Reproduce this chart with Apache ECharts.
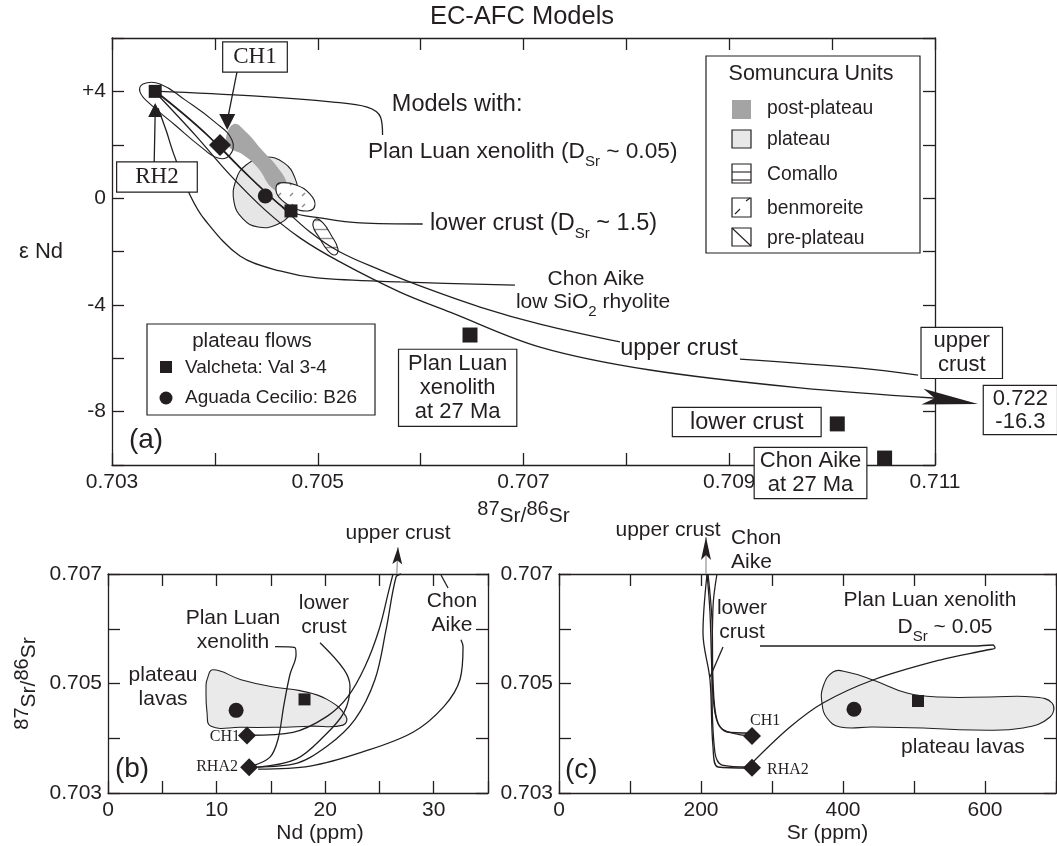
<!DOCTYPE html>
<html>
<head>
<meta charset="utf-8">
<title>EC-AFC Models</title>
<script src="https://cdn.jsdelivr.net/npm/echarts@6/dist/echarts.min.js"></script>
<style>
  html, body { margin: 0; padding: 0; background: #fff; }
  #chart { width: 1057px; height: 846px; }
</style>
</head>
<body>
<div id="chart"></div>
<script>
// ---------- (a) eNd vs 87Sr/86Sr ----------
var aStart = [[0.70342, 4.0]];
var aRH2 = [[0.70342, 3.3]];
var aCH1 = [[0.70412, 2.85]];
var aCH1dia = [[0.70405, 1.99]];
var aB26 = [[0.70449, 0.08]];
var aVal = [[0.70474, -0.48]];
var aCrust = [[0.70648, -5.13], [0.71005, -8.46], [0.71051, -9.74]];

var aPlanLuan = [[0.70342, 4.01], [0.70437, 3.83], [0.70515, 3.60], [0.70548, 3.41], [0.70561, 3.04], [0.70563, 2.37]];
var aLowerCrust = [[0.70344, 3.94], [0.70376, 2.93], [0.70403, 1.99], [0.70429, 0.98], [0.70452, 0.12], [0.70474, -0.52],
  [0.70502, -0.74], [0.70541, -0.93], [0.70602, -0.97]];
var aChonAike = [[0.703447, 3.38], [0.703525, 2.55], [0.703603, 1.62], [0.703758, 0.12], [0.703904, -0.82], [0.704244, -2.17],
  [0.704633, -2.73], [0.704993, -2.99], [0.7058, -3.14], [0.706917, -3.26]];
var aUpper1 = [[0.703437, 3.98], [0.703855, 2.63], [0.704244, 1.13], [0.704633, -0.26], [0.704925, -1.27], [0.705216, -2.02],
  [0.705605, -2.69], [0.705994, -3.29], [0.706577, -4.08], [0.70716, -4.72], [0.707938, -5.39]];
var aUpper1Tail = [[0.709104, -6.03], [0.710271, -6.37], [0.710835, -6.63]];
var aUpper2 = [[0.703437, 3.90], [0.703807, 2.37], [0.704147, 0.87], [0.704487, -0.44], [0.704827, -1.49], [0.705216, -2.39],
  [0.705799, -3.52], [0.706286, -4.27], [0.70716, -5.58], [0.70823, -6.44], [0.709688, -7.11], [0.710981, -7.49]];
var aUpper2Arrow = [[0.710981, -7.49], [0.711418, -7.71]];
var aRH2Pointer = [[0.70341, 1.32], [0.70342, 3.23]];
var aCH1Pointer = [[0.704215, 4.73], [0.704128, 3.04]];

var aPlateauField = [[0.704487, 1.54], [0.704672, 1.32], [0.704779, 0.75], [0.704798, 0.12], [0.70474, -0.56], [0.704594, -1.01],
  [0.704419, -1.08], [0.704273, -0.78], [0.704186, -0.15], [0.704205, 0.68], [0.704303, 1.24]];
var aPostPlateau = [[0.704186, 2.78], [0.704303, 2.48], [0.704458, 1.80], [0.704614, 1.13], [0.704701, 0.53], [0.704672, 0.23],
  [0.704555, 0.38], [0.704419, 1.13], [0.704264, 1.65], [0.704147, 1.88], [0.704108, 2.25]];
var aPrePlateau = [[0.703301, 4.28], [0.703467, 4.28], [0.70371, 3.68], [0.704001, 2.85], [0.704166, 2.18], [0.704147, 1.62],
  [0.70403, 1.50], [0.703855, 1.95], [0.703612, 2.74], [0.703369, 3.53], [0.703272, 3.98]];
var aBenmoreite = [[0.704633, 0.57], [0.704789, 0.49], [0.704925, 0.15], [0.704973, -0.26], [0.704905, -0.48], [0.70475, -0.33],
  [0.704623, 0.04], [0.704594, 0.38]];
var aComallo = [[0.704983, -0.78], [0.705051, -0.93], [0.705129, -1.38], [0.705197, -1.91], [0.705168, -2.13], [0.7051, -1.98],
  [0.705012, -1.46], [0.704954, -1.04]];

// ---------- (b) 87Sr/86Sr vs Nd ----------
var bB26 = [[11.8, 0.70451]];
var bVal = [[18.1, 0.70471]];
var bStart = [[12.8, 0.70405], [13.0, 0.70347]];
var bPlateau = [[9.12, 0.70507], [9.67, 0.70525], [12.25, 0.70507], [15.38, 0.70493], [17.68, 0.70487], [20.17, 0.70471],
  [21.92, 0.7044], [21.65, 0.70424], [18.6, 0.70422], [15.38, 0.7042], [12.25, 0.7042], [9.49, 0.70422], [9.12, 0.70447], [9.03, 0.70495]];
var bUpperCH1 = [[13.08, 0.704055], [17.04, 0.704109], [20.17, 0.7044], [22.11, 0.704764], [23.67, 0.705309], [24.96, 0.705982],
  [25.88, 0.706709], [26.25, 0.707]];
var bUpperRHA2 = [[13.08, 0.703473], [17.04, 0.703527], [20.17, 0.703855], [22.75, 0.704345], [24.59, 0.705073], [25.61, 0.705982],
  [26.53, 0.706945], [26.99, 0.707]];
var bLowerCrust = [[19.53, 0.705745], [21.74, 0.705255], [22.29, 0.704945], [21.74, 0.704473], [19.89, 0.704036], [17.32, 0.703618], [13.82, 0.703473]];
var bPlanLuan = [[15.38, 0.705673], [17.22, 0.705655], [17.32, 0.705527], [16.76, 0.705164], [16.21, 0.704618], [15.66, 0.703982],
  [14.92, 0.703655], [13.26, 0.703491]];
var bChonAike = [[13.82, 0.703436], [18.61, 0.703491], [23.39, 0.703745], [28.09, 0.704109], [30.95, 0.704582], [32.42, 0.705073],
  [32.7, 0.705673], [32.51, 0.7058]];
var bChonPointer = [[30.67, 0.706982], [31.32, 0.706745]];
var bArrow = [[26.6, 0.707], [26.71, 0.70749]];

// ---------- (c) 87Sr/86Sr vs Sr ----------
var cB26 = [[415.5, 0.70453]];
var cVal = [[505.6, 0.70468]];
var cStart = [[271.8, 0.70404], [271.8, 0.70346]];
var cPlateau = [[371.8, 0.704936], [385.9, 0.70521], [405.6, 0.70521], [442.3, 0.705064], [490.2, 0.704826], [536.6, 0.704753],
  [607.1, 0.704753], [667.6, 0.704753], [694.4, 0.704644], [691.6, 0.704388], [653.5, 0.704187], [583.1, 0.704151],
  [512.7, 0.704187], [442.3, 0.704206], [395.8, 0.704206], [377.5, 0.70437], [370.4, 0.704644]];
var cPlanLuan = [[273.2, 0.703566], [325.4, 0.704205], [371.8, 0.704644], [442.3, 0.705064], [536.6, 0.705429], [602.8, 0.705612],
  [614.1, 0.705648], [611.3, 0.705703], [583.1, 0.705685], [283.1, 0.705685]];
var cLower1 = [[269, 0.704096], [236.6, 0.704114], [222.5, 0.704333], [216.9, 0.705064], [215.5, 0.70616], [209.9, 0.707]];
var cLower2 = [[269, 0.704041], [229.6, 0.704169], [219.7, 0.704461], [215.5, 0.705192], [212.7, 0.706288], [208.5, 0.707]];
var cUpper = [[269, 0.703457], [223.9, 0.703475], [216.9, 0.70384], [212.7, 0.705064], [202.8, 0.705922], [208.5, 0.707]];
var cChonAike = [[269, 0.703475], [229.6, 0.703511], [219.7, 0.703731], [215.5, 0.704936], [216.9, 0.706397], [222.5, 0.707]];
var cLowerPointer = [[231, 0.705667], [212.7, 0.705119]];
var cArrow = [[207, 0.707], [207, 0.707676]];

var INK = '#231f20';
var SANS = '"Liberation Sans", Arial, Helvetica, sans-serif';
var SERIF = '"Liberation Serif", "Times New Roman", serif';

var rich = {
  tp: { fontFamily: SANS, fontSize: 22.7, color: INK, lineHeight: 34, verticalAlign: 'middle' },
  t: { fontFamily: SANS, fontSize: 23.5, color: INK, lineHeight: 34, verticalAlign: 'middle' },
  s: { fontFamily: SANS, fontSize: 15, color: INK, lineHeight: 15, verticalAlign: 'bottom' },
  tb: { fontFamily: SANS, fontSize: 21, color: INK, lineHeight: 34, verticalAlign: 'middle' }
};
var nameRich = {
  p: { fontFamily: SANS, fontSize: 20, color: INK, lineHeight: 18, verticalAlign: 'top' },
  n: { fontFamily: SANS, fontSize: 21, color: INK, lineHeight: 34, verticalAlign: 'middle' }
};

// text annotations, anchored in each panel's data space
var notesA = [
  { at: [0.70572, 3.49], text: 'Models with:', align: 'left' },
  { at: [0.705488, 1.73], text: '{tp|Plan Luan xenolith (D}{s|Sr}{tp| ~ 0.05)}', align: 'left' },
  { at: [0.70609, -0.97], text: '{t|lower crust (D}{s|Sr}{t| ~ 1.5)}', align: 'left' },
  { at: [0.707705, -3.03], text: 'Chon Aike', size: 21 },
  { at: [0.707676, -3.89], text: '{tb|low SiO}{s|2}{tb| rhyolite}' },
  { at: [0.70794, -5.62], text: 'upper crust', align: 'left' },
  { at: [0.703165, -9.06], text: '(a)', align: 'left', size: 28 },
  { at: [0.70636, -7.11], text: 'Plan Luan\nxenolith\nat 27 Ma', box: true, size: 22, pad: [2, 9] },
  { at: [0.70917, -8.39], text: 'lower crust', box: true, pad: [1, 17], lh: 26 },
  { at: [0.70979, -10.30], text: 'Chon Aike\nat 27 Ma', box: true, size: 22, pad: [1, 5] },
  { at: [0.71126, -5.80], text: 'upper\ncrust', box: true, size: 22, pad: [1, 12] },
  { at: [0.71183, -7.94], text: '0.722\n-16.3', box: true, size: 22, pad: [1, 9], lh: 23 },
  { at: [0.70439, 5.29], text: 'CH1', box: true, serif: true, size: 23, lh: 27, pad: [1, 10] },
  { at: [0.703437, 0.79], text: 'RH2', box: true, serif: true, size: 23, lh: 27, pad: [1, 18] }
];
var notesB = [
  { at: [26.71, 0.707745], text: 'upper crust', size: 21 },
  { at: [11.51, 0.705982], text: 'Plan Luan\nxenolith', size: 21 },
  { at: [19.89, 0.706255], text: 'lower\ncrust', size: 21 },
  { at: [31.68, 0.706291], text: 'Chon\nAike', size: 21 },
  { at: [5.07, 0.704927], text: 'plateau\nlavas', size: 21 },
  { at: [0.64, 0.703436], text: '(b)', align: 'left', size: 28 },
  { at: [12.16, 0.704018], text: 'CH1', align: 'right', serif: true, size: 16 },
  { at: [11.97, 0.703473], text: 'RHA2', align: 'right', serif: true, size: 16 }
];
var notesC = [
  { at: [153.5, 0.707804], text: 'upper crust', size: 21 },
  { at: [242.3, 0.707438], text: 'Chon\nAike', align: 'left', size: 21 },
  { at: [257.7, 0.70616], text: 'lower\ncrust', size: 21 },
  { at: [522.5, 0.706525], text: 'Plan Luan xenolith', size: 21 },
  { at: [543.7, 0.706032], text: '{tb|D}{s|Sr}{tb| ~ 0.05}' },
  { at: [569.0, 0.70384], text: 'plateau lavas', size: 21 },
  { at: [8.5, 0.70342], text: '(c)', align: 'left', size: 28 },
  { at: [269, 0.704315], text: 'CH1', align: 'left', serif: true, size: 16 },
  { at: [293, 0.70342], text: 'RHA2', align: 'left', serif: true, size: 16 }
];

function fillPattern(draw, w, h) {
  var c = document.createElement('canvas');
  c.width = w; c.height = h;
  var g = c.getContext('2d');
  g.fillStyle = '#fff';
  g.fillRect(0, 0, w, h);
  g.strokeStyle = '#8c8c8c';
  g.lineWidth = 1.4;
  draw(g);
  return { image: c, repeat: 'repeat' };
}
var stripes = fillPattern(function (g) { g.beginPath(); g.moveTo(0, 4.5); g.lineTo(10, 4.5); g.stroke(); }, 10, 9);
var dashes = fillPattern(function (g) { g.beginPath(); g.moveTo(2, 9); g.lineTo(5, 6); g.stroke(); }, 12, 11);

function ax(gi) { return { xAxisIndex: gi * 2, yAxisIndex: gi * 2 }; }

function curve(gi, pts, color) {
  return Object.assign({
    type: 'line', data: pts, smooth: 0.35, showSymbol: false, silent: true, clip: false, z: 3,
    lineStyle: { color: color || INK, width: 1.3 }
  }, ax(gi));
}

function field(gi, pts, style) {
  return Object.assign({
    type: 'custom', data: [pts[0]], silent: true, z: 1, clip: false,
    renderItem: function (params, api) {
      return {
        type: 'polygon',
        shape: { points: pts.map(function (p) { return api.coord(p); }), smooth: 0.45 },
        style: style
      };
    }
  }, ax(gi));
}

// arrowhead whose tip sits on the segment's last point, pointing along the segment
function arrowHead(gi, pts, len, half) {
  return Object.assign({
    type: 'custom', data: [pts[1]], silent: true, z: 6, clip: false,
    renderItem: function (params, api) {
      var a = api.coord(pts[0]), b = api.coord(pts[1]);
      var dx = b[0] - a[0], dy = b[1] - a[1], d = Math.sqrt(dx * dx + dy * dy) || 1;
      var ux = dx / d, uy = dy / d, nx = -uy, ny = ux;
      var bx = b[0] - ux * len, by = b[1] - uy * len;
      var mx = b[0] - ux * len * 0.78, my = b[1] - uy * len * 0.78;
      return {
        type: 'polygon',
        shape: { points: [b, [bx + nx * half, by + ny * half], [mx, my], [bx - nx * half, by - ny * half]] },
        style: { fill: INK }
      };
    }
  }, ax(gi));
}

function marks(gi, pts, symbol, size, rotate) {
  return Object.assign({
    type: 'scatter', data: pts, symbol: symbol, symbolSize: size, symbolRotate: rotate || 0,
    silent: true, clip: false, z: 5, itemStyle: { color: INK, opacity: 1 }
  }, ax(gi));
}

function notes(gi, list) {
  return Object.assign({
    type: 'scatter', silent: true, clip: false, z: 20, symbolSize: 1,
    itemStyle: { color: 'rgba(0,0,0,0)', opacity: 1 },
    data: list.map(function (n) {
      var lab = {
        show: true, position: 'inside', align: n.align || 'center', verticalAlign: 'middle',
        formatter: n.text, fontFamily: n.serif ? SERIF : SANS, fontSize: n.size || 23.5,
        lineHeight: n.lh || 24, color: INK, opacity: 1, rich: rich
      };
      if (n.box) {
        lab.backgroundColor = '#fff';
        lab.borderColor = INK;
        lab.borderWidth = 1.2;
        lab.padding = n.pad;
      }
      return { value: n.at, label: lab };
    })
  }, ax(gi));
}

function axisBase(gi, min, max, step) {
  return {
    type: 'value', gridIndex: gi, min: min, max: max, interval: step,
    axisLine: { onZero: false, lineStyle: { color: INK, width: 1.3 } },
    axisTick: { inside: true, length: 12, lineStyle: { color: INK, width: 1.3 } },
    splitLine: { show: false }
  };
}

function axisPair(dim, gi, min, max, step, fmt, extra) {
  var main = Object.assign(axisBase(gi, min, max, step), {
    position: dim === 'x' ? 'bottom' : 'left',
    axisLabel: { formatter: fmt, fontFamily: SANS, fontSize: 21, color: INK, margin: dim === 'x' ? 7 : 6 },
    nameMoveOverlap: false
  }, extra || {});
  var mirror = Object.assign(axisBase(gi, min, max, step), {
    position: dim === 'x' ? 'top' : 'right',
    axisLabel: { show: false }
  });
  return [main, mirror];
}

function srFmt(v) {
  var k = Math.round((v - 0.703) * 1000);
  return k % 2 === 0 ? v.toFixed(3) : '';
}

var srName = '{p|87}{n|Sr/}{p|86}{n|Sr}';

var xAxes = [].concat(
  axisPair('x', 0, 0.703, 0.711, 0.001, srFmt, {
    name: srName, nameLocation: 'middle', nameGap: 34, nameTextStyle: { rich: nameRich }
  }),
  axisPair('x', 1, 0, 35, 5, function (v) { return v % 10 === 0 ? String(v) : ''; }, {
    name: 'Nd (ppm)', nameLocation: 'middle', nameGap: 30,
    nameTextStyle: { fontFamily: SANS, fontSize: 21, color: INK, padding: [0, 0, 0, 44] }
  }),
  axisPair('x', 2, 0, 700, 100, function (v) { return v % 200 === 0 ? String(v) : ''; }, {
    name: 'Sr (ppm)', nameLocation: 'middle', nameGap: 30,
    nameTextStyle: { fontFamily: SANS, fontSize: 21, color: INK, padding: [0, 0, 0, 40] }
  })
);

var yAxes = [].concat(
  axisPair('y', 0, -10, 6, 2, function (v) {
    var r = Math.round(v);
    if (r % 4 !== 0) return '';
    return r > 0 ? '+' + r : String(r);
  }, {
    name: 'ε Nd', nameLocation: 'middle', nameRotate: 0, nameGap: 49,
    nameTextStyle: { fontFamily: SANS, fontSize: 22, color: INK, align: 'right', padding: [0, 0, 14, 0] }
  }),
  axisPair('y', 1, 0.703, 0.707, 0.001, srFmt, {
    name: srName, nameLocation: 'middle', nameRotate: 90, nameGap: 62, nameTextStyle: { rich: nameRich }
  }),
  axisPair('y', 2, 0.703, 0.707, 0.001, srFmt)
);

function txt(x, y, s, size, align) {
  return {
    type: 'text', x: x, y: y, z: 30,
    style: {
      text: s, font: size + 'px ' + SANS, fill: INK,
      align: align || 'left', verticalAlign: 'middle', textAlign: align || 'left', textVerticalAlign: 'middle'
    }
  };
}
function box(x, y, w, h, fill) {
  return { type: 'rect', z: 30, shape: { x: x, y: y, width: w, height: h }, style: { fill: fill || '#fff', stroke: INK, lineWidth: 1.2 } };
}
function seg(x1, y1, x2, y2) {
  return { type: 'line', z: 31, shape: { x1: x1, y1: y1, x2: x2, y2: y2 }, style: { stroke: INK, lineWidth: 1.1 } };
}

var legendItems = [
  box(706, 56, 214, 197),
  txt(811, 74, 'Somuncura Units', 21.5, 'center'),
  { type: 'rect', z: 31, shape: { x: 732, y: 100, width: 19, height: 19 }, style: { fill: '#a4a4a4' } },
  txt(767, 109, 'post-plateau', 19.3),
  box(732, 130, 19, 18, '#e8e8e8'),
  txt(767, 140, 'plateau', 19.3),
  box(732, 164, 19, 19),
  seg(732, 172, 751, 172), seg(732, 180, 751, 180),
  txt(767, 175, 'Comallo', 19.3),
  box(732, 198, 19, 19),
  seg(735, 214, 740, 209), seg(746, 201, 750, 198),
  txt(767, 209, 'benmoreite', 19.3),
  box(732, 228, 19, 18),
  seg(732, 228, 751, 246),
  txt(767, 239, 'pre-plateau', 19.3),

  box(147, 324, 228, 91),
  txt(252, 341, 'plateau flows', 20.5, 'center'),
  { type: 'rect', z: 31, shape: { x: 160, y: 361, width: 12, height: 12 }, style: { fill: INK } },
  txt(185, 368, 'Valcheta: Val 3-4', 19),
  { type: 'circle', z: 31, shape: { cx: 166, cy: 398, r: 6.5 }, style: { fill: INK } },
  txt(185, 398, 'Aguada Cecilio: B26', 19)
];

var series = [
  // fields
  field(0, aPlateauField, { fill: '#e6e6e6', stroke: INK, lineWidth: 1.1 }),
  field(0, aPostPlateau, { fill: '#a6a6a6' }),
  field(0, aPrePlateau, { fill: 'none', stroke: INK, lineWidth: 1.1 }),
  field(0, aBenmoreite, { fill: dashes, stroke: INK, lineWidth: 1.1 }),
  field(0, aComallo, { fill: stripes, stroke: INK, lineWidth: 1.1 }),
  field(1, bPlateau, { fill: '#eaeaea', stroke: INK, lineWidth: 1.1 }),
  field(2, cPlateau, { fill: '#eaeaea', stroke: INK, lineWidth: 1.1 }),

  // model curves and pointers
  curve(0, aPlanLuan), curve(0, aLowerCrust), curve(0, aChonAike),
  curve(0, aUpper1), curve(0, aUpper1Tail), curve(0, aUpper2),
  curve(0, aRH2Pointer), curve(0, aCH1Pointer),
  curve(0, aUpper2Arrow),
  arrowHead(0, aUpper2Arrow, 56, 8),

  curve(1, bUpperCH1), curve(1, bUpperRHA2), curve(1, bLowerCrust), curve(1, bPlanLuan),
  curve(1, bChonAike), curve(1, bChonPointer),
  curve(1, bArrow, '#9a9a9a'),
  arrowHead(1, bArrow, 17, 5),

  curve(2, cPlanLuan), curve(2, cLower1), curve(2, cLower2), curve(2, cUpper), curve(2, cChonAike),
  curve(2, cLowerPointer),
  curve(2, cArrow, '#9a9a9a'),
  arrowHead(2, cArrow, 23, 5),

  // samples
  marks(0, aStart, 'rect', 13),
  marks(0, aVal, 'rect', 13),
  marks(0, aCrust, 'rect', 15),
  marks(0, aB26, 'circle', 15),
  marks(0, aCH1dia, 'diamond', 22),
  marks(0, aRH2, 'triangle', 14),
  marks(0, aCH1, 'triangle', 16, 180),
  marks(1, bB26, 'circle', 15),
  marks(1, bVal, 'rect', 12),
  marks(1, bStart, 'diamond', 18),
  marks(2, cB26, 'circle', 15),
  marks(2, cVal, 'rect', 12),
  marks(2, cStart, 'diamond', 18),

  // annotations
  notes(0, notesA), notes(1, notesB), notes(2, notesC)
];

var chart = echarts.init(document.getElementById('chart'), null, { renderer: 'canvas' });
chart.setOption({
  animation: false,
  backgroundColor: '#fff',
  title: {
    text: 'EC-AFC Models', left: 517, top: -1, textAlign: 'center',
    textStyle: { fontFamily: SANS, fontSize: 25.5, fontWeight: 'normal', color: INK }
  },
  grid: [
    { left: 112, top: 38, width: 823, height: 427, outerBoundsMode: 'none' },
    { left: 108, top: 574, width: 380, height: 219, outerBoundsMode: 'none' },
    { left: 559, top: 574, width: 497, height: 219, outerBoundsMode: 'none' }
  ],
  xAxis: xAxes,
  yAxis: yAxes,
  series: series,
  graphic: { elements: legendItems }
});
</script>
</body>
</html>
